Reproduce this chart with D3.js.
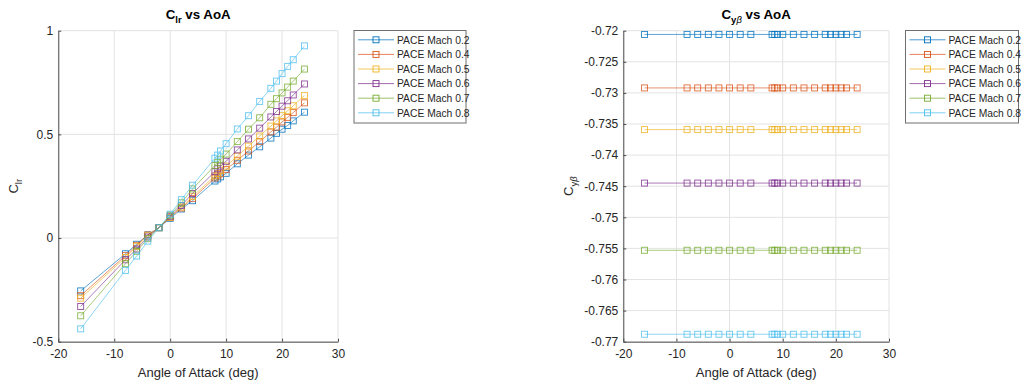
<!DOCTYPE html>
<head>
    <meta charset="utf-8">
    <script src="https://d3js.org/d3.v7.min.js"></script>
    <style>
      body { margin: 0; background: #fff; }
      text {
        font-family: "Liberation Sans", Arial, sans-serif;
        fill: #262626;
      }
      .charttitle { font-size: 13.3px; font-weight: bold; fill: #000; }
      .axislabel { font-size: 13px; }
      .tick text { font-size: 12px; fill: #262626; }
      .legendtext { font-size: 10.3px; }
    </style>
</head>
<body>
    <script>
        // angle of attack points (deg)
        var aoa = [-16, -8, -6, -4, -2, 0, 2, 4, 8, 8.5, 9, 10, 12, 14, 16, 18, 19, 20, 21, 22, 24]

        var seriesNames = ["PACE Mach 0.2", "PACE Mach 0.4", "PACE Mach 0.5", "PACE Mach 0.6", "PACE Mach 0.7", "PACE Mach 0.8"]
        var seriesColors = ["#0072BD", "#D95319", "#EDB120", "#7E2F8E", "#77AC30", "#4DBEEE"]

        // C_lr vs AoA
        var clrMach02 = [-0.255, -0.076, -0.030, 0.015, 0.050, 0.095, 0.140, 0.180, 0.275, 0.285, 0.295, 0.312, 0.358, 0.400, 0.440, 0.482, 0.505, 0.525, 0.543, 0.565, 0.607]
        var clrMach04 = [-0.278, -0.085, -0.035, 0.015, 0.050, 0.100, 0.145, 0.190, 0.290, 0.300, 0.310, 0.330, 0.375, 0.420, 0.465, 0.512, 0.535, 0.560, 0.582, 0.605, 0.652]
        var clrMach05 = [-0.290, -0.094, -0.040, 0.011, 0.050, 0.100, 0.150, 0.200, 0.300, 0.312, 0.325, 0.347, 0.395, 0.443, 0.492, 0.540, 0.565, 0.590, 0.614, 0.638, 0.687]
        var clrMach06 = [-0.330, -0.105, -0.053, 0.005, 0.050, 0.105, 0.157, 0.215, 0.320, 0.334, 0.347, 0.370, 0.425, 0.478, 0.530, 0.584, 0.610, 0.636, 0.662, 0.690, 0.743]
        var clrMach07 = [-0.375, -0.124, -0.064, -0.003, 0.050, 0.110, 0.170, 0.237, 0.350, 0.365, 0.380, 0.405, 0.465, 0.525, 0.580, 0.645, 0.672, 0.700, 0.728, 0.757, 0.815]
        var clrMach08 = [-0.438, -0.156, -0.087, -0.015, 0.050, 0.115, 0.185, 0.255, 0.385, 0.400, 0.420, 0.455, 0.526, 0.590, 0.659, 0.722, 0.757, 0.793, 0.828, 0.860, 0.927]

        // C_y_beta vs AoA
        var cybMach02 = [-0.7206, -0.7206, -0.7206, -0.7206, -0.7206, -0.7206, -0.7206, -0.7206, -0.7206, -0.7206, -0.7206, -0.7206, -0.7206, -0.7206, -0.7206, -0.7206, -0.7206, -0.7206, -0.7206, -0.7206, -0.7206]
        var cybMach04 = [-0.7292, -0.7292, -0.7292, -0.7292, -0.7292, -0.7292, -0.7292, -0.7292, -0.7292, -0.7292, -0.7292, -0.7292, -0.7292, -0.7292, -0.7292, -0.7292, -0.7292, -0.7292, -0.7292, -0.7292, -0.7292]
        var cybMach05 = [-0.7359, -0.7359, -0.7359, -0.7359, -0.7359, -0.7359, -0.7359, -0.7359, -0.7359, -0.7359, -0.7359, -0.7359, -0.7359, -0.7359, -0.7359, -0.7359, -0.7359, -0.7359, -0.7359, -0.7359, -0.7359]
        var cybMach06 = [-0.7445, -0.7445, -0.7445, -0.7445, -0.7445, -0.7445, -0.7445, -0.7445, -0.7445, -0.7445, -0.7445, -0.7445, -0.7445, -0.7445, -0.7445, -0.7445, -0.7445, -0.7445, -0.7445, -0.7445, -0.7445]
        var cybMach07 = [-0.7553, -0.7553, -0.7553, -0.7553, -0.7553, -0.7553, -0.7553, -0.7553, -0.7553, -0.7553, -0.7553, -0.7553, -0.7553, -0.7553, -0.7553, -0.7553, -0.7553, -0.7553, -0.7553, -0.7553, -0.7553]
        var cybMach08 = [-0.7688, -0.7688, -0.7688, -0.7688, -0.7688, -0.7688, -0.7688, -0.7688, -0.7688, -0.7688, -0.7688, -0.7688, -0.7688, -0.7688, -0.7688, -0.7688, -0.7688, -0.7688, -0.7688, -0.7688, -0.7688]

        // tick values / labels
        var xTicks = [-20, -10, 0, 10, 20, 30]
        var clrTicks = [-0.5, 0, 0.5, 1]
        var clrTickLabels = ["-0.5", "0", "0.5", "1"]
        var cybTicks = [-0.77, -0.765, -0.76, -0.755, -0.75, -0.745, -0.74, -0.735, -0.73, -0.725, -0.72]
        var cybTickLabels = ["-0.77", "-0.765", "-0.76", "-0.755", "-0.75", "-0.745", "-0.74", "-0.735", "-0.73", "-0.725", "-0.72"]

        var clrSeries = [clrMach02, clrMach04, clrMach05, clrMach06, clrMach07, clrMach08]
        var cybSeries = [cybMach02, cybMach04, cybMach05, cybMach06, cybMach07, cybMach08]

        var svgContainer = d3.select("body")
          .append("svg")
          .attr("width", 1030)
          .attr("height", 385)

        function drawPanel(opts) {
          var left = opts.left, right = opts.right, top = 30.7, bottom = 341.7
          var g = svgContainer.append("g")

          var xScale = d3.scaleLinear().domain([-20, 30]).range([left, right])
          var yScale = d3.scaleLinear().domain(opts.yDomain).range([bottom, top])

          // grid
          g.append("g").selectAll("line.vg").data(xTicks).enter().append("line")
            .attr("x1", function(d){return xScale(d)}).attr("x2", function(d){return xScale(d)})
            .attr("y1", top).attr("y2", bottom)
            .attr("stroke", "#e3e3e3").attr("stroke-width", 1)
          g.append("g").selectAll("line.hg").data(opts.yTicks).enter().append("line")
            .attr("x1", left).attr("x2", right)
            .attr("y1", function(d){return yScale(d)}).attr("y2", function(d){return yScale(d)})
            .attr("stroke", "#e3e3e3").attr("stroke-width", 1)

          // axes
          var xAxis = g.append("g")
            .attr("transform", "translate(0," + bottom + ")")
            .call(d3.axisBottom(xScale).tickValues(xTicks).tickFormat(function(d){return String(d)})
              .tickSizeInner(-3).tickSizeOuter(0).tickPadding(6))
          var yAxis = g.append("g")
            .attr("transform", "translate(" + left + ",0)")
            .call(d3.axisLeft(yScale).tickValues(opts.yTicks)
              .tickFormat(function(d, i){return opts.yTickLabels[i]})
              .tickSizeInner(-3).tickSizeOuter(0).tickPadding(5))
          g.selectAll(".domain").attr("stroke", "#4d4d4d")
          g.selectAll(".tick line").attr("stroke", "#4d4d4d")
          xAxis.selectAll(".tick text").attr("dy", "0.85em")

          // series
          var line = d3.line()
            .x(function(d){return xScale(d[0])})
            .y(function(d){return yScale(d[1])})
          opts.series.forEach(function(vals, s) {
            var pts = aoa.map(function(a, i){return [a, vals[i]]})
            g.append("path")
              .datum(pts)
              .attr("d", line)
              .attr("fill", "none")
              .attr("stroke", seriesColors[s])
              .attr("stroke-width", 0.8)
              .attr("stroke-opacity", 0.8)
            g.append("g").selectAll("rect").data(pts).enter().append("rect")
              .attr("x", function(d){return xScale(d[0]) - 3})
              .attr("y", function(d){return yScale(d[1]) - 3})
              .attr("width", 6).attr("height", 6)
              .attr("fill", "none")
              .attr("stroke", seriesColors[s])
              .attr("stroke-width", 0.9)
              .attr("stroke-opacity", 0.85)
          })

          // title
          var cx = (left + right) / 2
          var title = g.append("text").attr("class", "charttitle")
            .attr("x", cx).attr("y", 19).attr("text-anchor", "middle")
          title.append("tspan").text("C")
          var tsub = title.append("tspan").attr("dy", 4).attr("font-size", "9.5px").text(opts.sub)
          if (opts.subGreek) tsub.append("tspan").attr("font-style", "italic").attr("font-weight", "normal").text(opts.subGreek)
          title.append("tspan").attr("dy", -4).text(" vs AoA")

          // x label
          g.append("text").attr("class", "axislabel")
            .attr("x", cx).attr("y", 377).attr("text-anchor", "middle")
            .text("Angle of Attack (deg)")

          // y label
          var ylab = g.append("text").attr("class", "axislabel")
            .attr("transform", "translate(" + opts.yLabelX + "," + ((top + bottom) / 2) + ") rotate(-90)")
            .attr("text-anchor", "middle")
          ylab.append("tspan").text("C")
          var ysub = ylab.append("tspan").attr("dy", 4).attr("font-size", "9.5px").text(opts.sub)
          if (opts.subGreek) ysub.append("tspan").attr("font-style", "italic").text(opts.subGreek)

          // legend
          var lg = g.append("g").attr("transform", "translate(" + opts.legendX + ",30.5)")
          lg.append("rect").attr("width", opts.legendW).attr("height", 92.5)
            .attr("fill", "#fff").attr("stroke", "#6e6e6e").attr("stroke-width", 1)
          seriesNames.forEach(function(name, s) {
            var y = 9.3 + s * 14.6
            lg.append("line").attr("x1", 4).attr("x2", 40).attr("y1", y).attr("y2", y)
              .attr("stroke", seriesColors[s]).attr("stroke-width", 0.9).attr("stroke-opacity", 0.8)
            lg.append("rect").attr("x", 19).attr("y", y - 3).attr("width", 6).attr("height", 6)
              .attr("fill", "none").attr("stroke", seriesColors[s]).attr("stroke-width", 0.9)
            lg.append("text").attr("class", "legendtext").attr("x", 43).attr("y", y + 3.7).text(name)
          })
        }

        drawPanel({left: 58.3, right: 338, yDomain: [-0.5, 1], yTicks: clrTicks, yTickLabels: clrTickLabels,
          series: clrSeries, sub: "lr", yLabelX: 18, legendX: 354, legendW: 112})
        drawPanel({left: 623.3, right: 889, yDomain: [-0.77, -0.72], yTicks: cybTicks, yTickLabels: cybTickLabels,
          series: cybSeries, sub: "y", subGreek: "\u03B2", yLabelX: 573, legendX: 905.5, legendW: 113})
    </script>
</body>
